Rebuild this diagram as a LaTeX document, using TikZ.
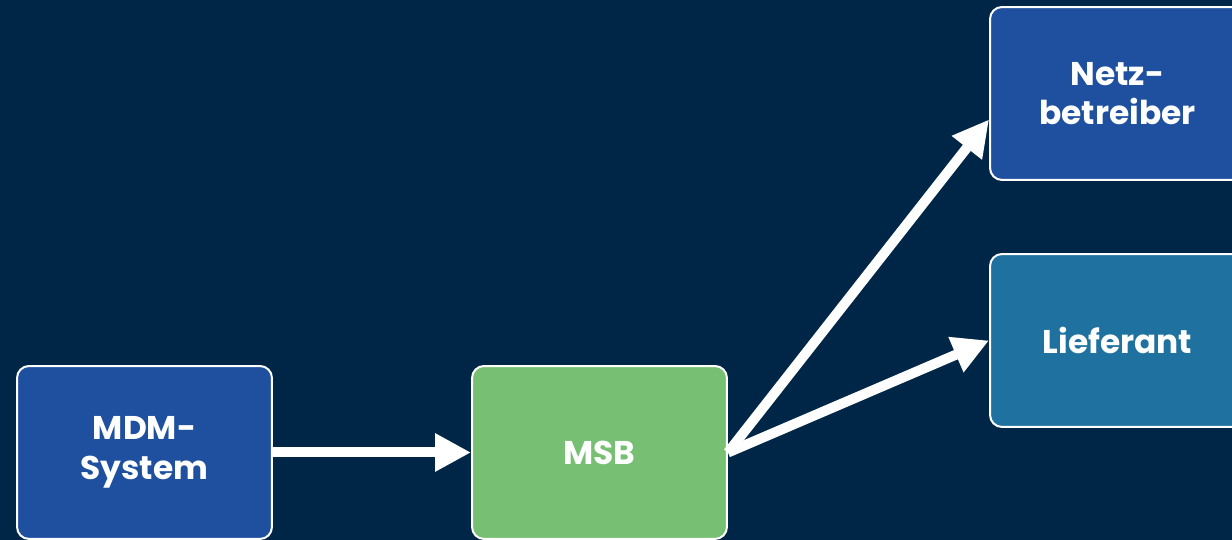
\documentclass[tikz,border=0pt]{standalone}
\usepackage{fontspec}
\setmainfont{Poppins}
\usetikzlibrary{arrows.meta}

\definecolor{navy}{RGB}{0,38,71}
\definecolor{boxblue}{RGB}{31,80,160}
\definecolor{boxteal}{RGB}{31,114,160}
\definecolor{boxgreen}{RGB}{119,191,115}

\tikzstyle{box}=[draw=white,line width=0.04cm,rounded corners=0.24cm,
   minimum width=5.1cm,minimum height=3.46cm,align=center,text=white,
   font=\fontsize{18.7}{22.6}\selectfont\bfseries]
\tikzstyle{flow}=[draw=white,line width=0.2cm,
   -{Triangle[length=0.72cm,width=0.72cm]}]

\begin{document}
\begin{tikzpicture}[x=0.02cm,y=0.02cm]

   % Background
   \fill[navy] (0,0) rectangle (1232,540);
   \useasboundingbox (0,0) rectangle (1232,540);

% Boxes
   \node[box,fill=boxblue] (mdm) at (144.5,87.5) {MDM-\\System};
   \node[box,fill=boxgreen] (msb) at (599.5,87.5) {MSB};
   \node[box,fill=boxblue] (netz) at (1117.5,446.5) {Netz-\\betreiber};
   \node[box,fill=boxteal] (lief) at (1117.5,199.5) {Lieferant};

% Arrows
   \draw[flow] (mdm.east) -- (msb.west);
   \draw[flow] (msb.east) -- ([yshift=-0.52cm]netz.west);
   \draw[flow] (msb.east) -- (lief.west);

\end{tikzpicture}
\end{document}
